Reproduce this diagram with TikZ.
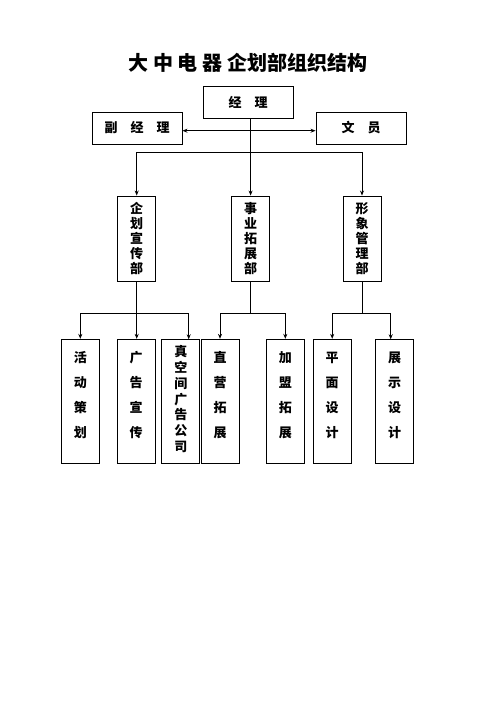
\documentclass[tikz,border=0pt]{standalone}
\usepackage{fontspec}
\setmainfont{Noto Sans CJK SC}
\usetikzlibrary{arrows.meta}
\begin{document}
\begin{tikzpicture}[x=1bp,y=-1bp,
  box/.style={draw=black,line width=0.9bp,inner sep=0pt,fill=white},
  hbox/.style={box,minimum width=90bp,minimum height=32bp,font=\fontsize{13bp}{15bp}\selectfont\bfseries},
  dbox/.style={box,minimum width=38bp,minimum height=85bp,align=center,font=\fontsize{13bp}{15bp}\selectfont\bfseries},
  bbox/.style={box,minimum width=38bp,minimum height=124bp},
  vtext/.style={align=center,inner sep=0pt,font=\fontsize{13bp}{25bp}\selectfont\bfseries},
  ln/.style={draw=black,line width=0.9bp},
  arr/.style={ln,-{Stealth[length=5bp,width=4bp]}},
  darr/.style={ln,{Stealth[length=5bp,width=4bp]}-{Stealth[length=5bp,width=4bp]}}
]
\useasboundingbox[fill=white] (0,0) rectangle (496,702);
\node[font=\fontsize{20bp}{24bp}\selectfont\bfseries] (title) at (248,63) {大 中 电 器 企划部组织结构};

\node[hbox] (mgr) at (248,102) {经\hspace{1em}理};
\node[hbox] (vmgr) at (137,128) {副\hspace{1em}经\hspace{1em}理};
\node[hbox] (clerk) at (361,128) {文\hspace{1em}员};

\node[dbox] (d1) at (136.7,238.5) {企\\划\\宣\\传\\部};
\node[dbox] (d2) at (250.6,238.5) {事\\业\\拓\\展\\部};
\node[dbox] (d3) at (362,238.5) {形\\象\\管\\理\\部};

\node[bbox] (b1) at (80.3,401.3) {};
\node[bbox] (b2) at (136.2,401.3) {};
\node[bbox] (b3) at (180.8,401.3) {};
\node[bbox] (b4) at (220,401.3) {};
\node[bbox] (b5) at (285.3,401.3) {};
\node[bbox] (b6) at (332.2,401.3) {};
\node[bbox] (b7) at (394.7,401.3) {};

\node[vtext] (t1) at (80.3,395.5) {活\\动\\策\\划};
\node[vtext] (t2) at (136.2,395.5) {广\\告\\宣\\传};
\node[vtext,font=\fontsize{13bp}{15.8bp}\selectfont\bfseries] (t3) at (180.8,399.2) {真\\空\\间\\广\\告\\公\\司};
\node[vtext] (t4) at (220,395.5) {直\\营\\拓\\展};
\node[vtext] (t5) at (285.3,395.5) {加\\盟\\拓\\展};
\node[vtext] (t6) at (332.2,395.5) {平\\面\\设\\计};
\node[vtext] (t7) at (394.7,395.5) {展\\示\\设\\计};

% top level connectors
\coordinate (bar1) at (0,152);
\coordinate (vm) at (0,130.7);
\draw[darr] (vmgr.east |- vm) -- (clerk.west |- vm);
\draw[arr] (mgr.south -| d2.north) -- (d2.north);
\draw[ln] (d1.north |- bar1) -- (d3.north |- bar1);
\draw[arr] (d1.north |- bar1) -- (d1.north);
\draw[arr] (d3.north |- bar1) -- (d3.north);

% second level connectors
\coordinate (bar2) at (0,313.3);
\coordinate (a3) at (188.7,339.3);
\coordinate (a7) at (390.7,339.3);
\draw[ln] (d1.south) -- (d1.south |- bar2);
\draw[ln] (b1.north |- bar2) -- (a3 |- bar2);
\draw[arr] (b1.north |- bar2) -- (b1.north);
\draw[arr] (d1.south |- bar2) -- (d1.south |- b2.north);
\draw[arr] (a3 |- bar2) -- (a3);

\draw[ln] (d2.south) -- (d2.south |- bar2);
\draw[ln] (b4.north |- bar2) -- (b5.north |- bar2);
\draw[arr] (b4.north |- bar2) -- (b4.north);
\draw[arr] (b5.north |- bar2) -- (b5.north);

\draw[ln] (d3.south) -- (d3.south |- bar2);
\draw[ln] (b6.north |- bar2) -- (a7 |- bar2);
\draw[arr] (b6.north |- bar2) -- (b6.north);
\draw[arr] (a7 |- bar2) -- (a7);
\end{tikzpicture}
\end{document}
